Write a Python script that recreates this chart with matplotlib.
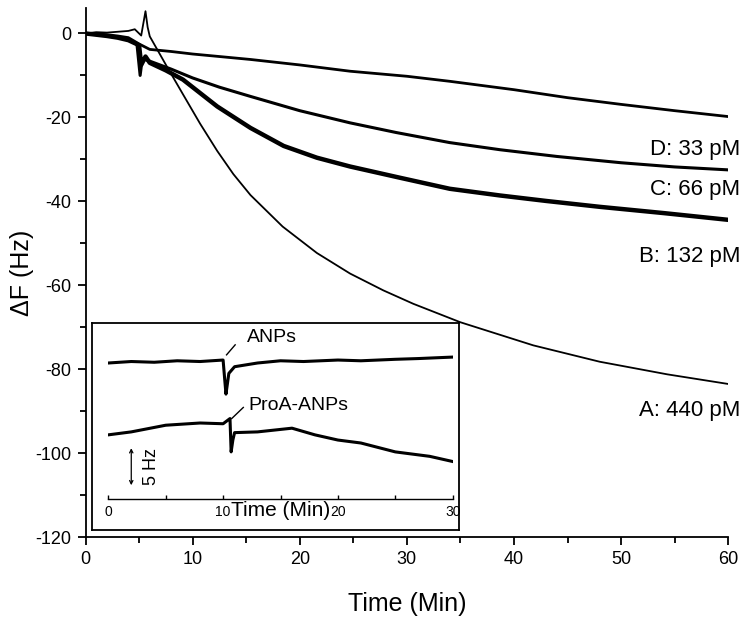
import matplotlib
matplotlib.use("Agg")
import matplotlib.pyplot as plt
from matplotlib.ticker import MultipleLocator

plt.rcParams['font.family'] = ['Liberation Sans', 'DejaVu Sans']
plt.rcParams['axes.unicode_minus'] = False

# main traces, time in min, frequency shift in Hz
t_A = [0, 1, 2, 3, 4, 4.6, 5.2, 5.6, 5.8, 6.0, 7.6, 9.1, 10.7, 12.3, 13.8, 15.4, 18.4, 21.6, 24.7,
       27.8, 30.6, 35.0, 41.8, 48.0, 54.3, 60.0]
f_A = [0, 0.3, 0.2, 0.4, 0.6, 1.0, -0.5, 5.3, 1.5, -0.7, -7.9, -14.5, -21.5, -28.0, -33.5, -38.5,
       -46.0, -52.3, -57.2, -61.2, -64.4, -68.8, -74.3, -78.2, -81.2, -83.5]

t_B = [0, 1, 2, 3, 4, 5.0, 5.2, 5.6, 6.0, 7.5, 9.1, 12.3, 15.4, 18.5, 21.6, 24.7, 29.4, 34.0, 38.7,
       43.0, 48.0, 54.0, 60.0]
f_B = [0, -0.3, -0.6, -1.0, -1.6, -2.8, -7.5, -5.5, -7.0, -8.8, -11.0, -17.4, -22.5, -26.8, -29.6,
       -31.7, -34.4, -37.0, -38.6, -39.9, -41.3, -42.8, -44.4]

t_C = [0, 1, 2, 3, 4, 4.8, 5.1, 5.3, 6.0, 8.0, 10.0, 12.5, 15.4, 20.0, 24.7, 29.0, 34.0, 38.7,
       44.0, 50.0, 55.0, 60.0]
f_C = [0, -0.2, -0.5, -0.9, -1.5, -2.5, -10.0, -6.0, -6.6, -8.5, -10.6, -12.8, -15.0, -18.4, -21.3,
       -23.6, -26.0, -27.7, -29.3, -30.8, -31.8, -32.5]

t_D = [0, 1, 2, 3, 4, 5.0, 6.0, 8.0, 10.0, 12.5, 15.4, 20.0, 24.7, 30.0, 34.0, 40.0, 45.0, 50.0,
       55.0, 60.0]
f_D = [0, -0.1, -0.3, -0.6, -1.0, -2.5, -3.8, -4.3, -4.9, -5.5, -6.2, -7.5, -9.0, -10.2, -11.4,
       -13.4, -15.3, -16.9, -18.4, -19.8]

labels = ["A: 440 pM", "B: 132 pM", "C: 66 pM", "D: 33 pM"]
label_y = [-89.7, -53.2, -37.2, -27.7]

# inset traces (time in min, Hz above the inset baseline)
ti_anp = [0, 2, 4, 6, 8, 10.0, 10.15, 10.25, 10.5, 11.0, 13, 15, 17, 20, 22, 25, 27, 30]
fi_anp = [18.4, 18.6, 18.5, 18.7, 18.6, 18.8, 16.0, 14.2, 17.0, 17.9, 18.4, 18.7, 18.6, 18.8, 18.7,
          18.9, 19.0, 19.2]
ti_proa = [0, 2, 5, 8, 10.0, 10.6, 10.7, 10.85, 11.0, 13, 16, 18, 20, 22, 25, 28, 30]
fi_proa = [8.7, 9.1, 10.0, 10.3, 10.2, 10.9, 6.4, 8.0, 9.0, 9.1, 9.6, 8.7, 8.0, 7.6, 6.4, 5.8, 5.1]

fig = plt.figure(figsize=(7.5, 6.35), dpi=100)
ax = fig.add_axes([0.114, 0.154, 0.857, 0.833])

ax.plot(t_A, f_A, color='black', lw=1.3)
ax.plot(t_B, f_B, color='black', lw=3.2)
ax.plot(t_C, f_C, color='black', lw=2.2)
ax.plot(t_D, f_D, color='black', lw=2.0)

for lab, yy in zip(labels, label_y):
    ax.text(61.1, yy, lab, ha='right', va='center', fontsize=16, clip_on=False)

ax.set_xlim(0, 60)
ax.set_ylim(-120, 6)
ax.xaxis.set_major_locator(MultipleLocator(10))
ax.xaxis.set_minor_locator(MultipleLocator(5))
ax.yaxis.set_major_locator(MultipleLocator(20))
ax.yaxis.set_minor_locator(MultipleLocator(10))
for s in ['top', 'right']:
    ax.spines[s].set_visible(False)
for s in ['left', 'bottom']:
    ax.spines[s].set_linewidth(1.3)
ax.tick_params(which='major', direction='out', length=6, width=1.3, labelsize=13, pad=4)
ax.tick_params(which='minor', direction='out', length=4, width=1.3)
ax.set_xlabel("Time (Min)", fontsize=18, labelpad=17)
ax.set_ylabel("ΔF (Hz)", fontsize=18, labelpad=1)

# inset frame
box = fig.add_axes([92/750, 1-530/635, (459-92)/750, (530-323)/635])
box.set_xticks([])
box.set_yticks([])
for s in box.spines.values():
    s.set_linewidth(1.3)
box.set_facecolor('white')

ins = fig.add_axes([108.3/750, 1-499.3/635, (452.7-108.3)/750, (499.3-323)/635])
ins.patch.set_alpha(0)
ins.plot(ti_anp, fi_anp, color='black', lw=2.2)
ins.plot(ti_proa, fi_proa, color='black', lw=2.2)
ins.set_xlim(0, 30)
ins.set_ylim(0, 23.8)
for s in ['top', 'right', 'left']:
    ins.spines[s].set_visible(False)
ins.spines['bottom'].set_linewidth(1.0)
ins.set_yticks([])
ins.set_xticks([0, 5, 10, 15, 20, 25, 30])
ins.set_xticklabels(["0", "", "10", "", "20", "", "30"])
ins.tick_params(axis='x', direction='in', length=3, width=1.0, labelsize=10, pad=4)
ins.text(15.0, -1.5, "Time (Min)", ha='center', va='center', fontsize=15)

ins.plot([10.3, 11.05], [19.5, 20.85], color='black', lw=1.0)
ins.text(12.05, 21.8, "ANPs", ha='left', va='center', fontsize=14)
ins.plot([10.75, 11.76], [10.9, 12.4], color='black', lw=1.0)
ins.text(12.2, 12.7, "ProA-ANPs", ha='left', va='center', fontsize=14)

ins.annotate("", xy=(2.0, 1.9), xytext=(2.0, 6.9),
             arrowprops=dict(arrowstyle='<->', lw=0.9, color='black', mutation_scale=6, shrinkA=0, shrinkB=0))
ins.text(3.8, 4.4, "5 Hz", rotation=90, ha='center', va='center', fontsize=13)

plt.savefig("out.png", dpi=100)
